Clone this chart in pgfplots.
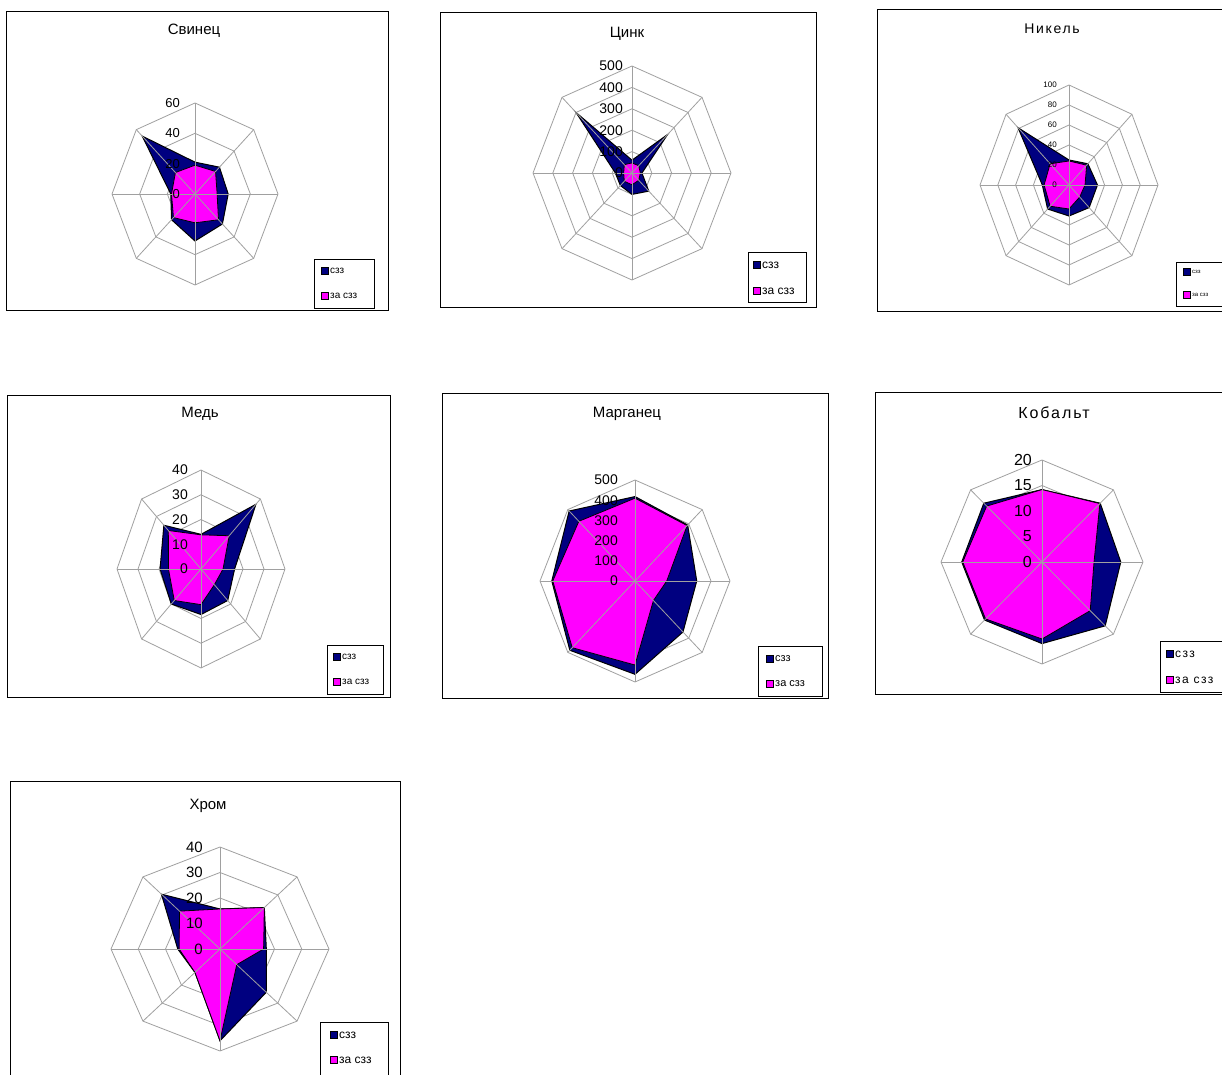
\documentclass[border=0pt]{standalone}
\usepackage{fontspec}
\setmainfont{Liberation Sans}
\newfontfamily\spaced[LetterSpace=12]{Liberation Sans}
\usepackage{pgfplots}
\pgfplotsset{compat=1.18}
\usepgfplotslibrary{polar}
\definecolor{navyc}{RGB}{0,0,128}
\definecolor{magc}{RGB}{255,0,255}
\definecolor{gridgray}{RGB}{160,160,160}
\pgfplotsset{
  radar/.style={anchor=center, scale only axis, hide axis, clip=false},
  gridl/.style={draw=gridgray, line width=0.8pt, data cs=polar},
  sz/.style={fill=navyc, draw=black, line width=1pt, data cs=polar},
  zsz/.style={fill=magc, draw=black, line width=0.8pt, data cs=polar},
}
\newcommand{\rings}[1]{\pgfplotsinvokeforeach{#1}{\addplot[gridl] coordinates {(90,##1) (45,##1) (0,##1) (-45,##1) (-90,##1) (-135,##1) (180,##1) (135,##1) (90,##1)};}}
\newcommand{\spokes}[1]{\pgfplotsinvokeforeach{90,45,0,-45,-90,-135,180,135}{\addplot[gridl] coordinates {(##1,0) (##1,#1)};}}
\newcommand{\rlabels}[3]{\pgfplotsinvokeforeach{#1}{\node[anchor=east, inner sep=0pt, font=\fontsize{#2}{#2}\selectfont, xshift=-#3pt] at (axis cs:0,##1) {##1};}}
\newcommand{\legendbox}[9]{% x1,y1,x2,y2, markerx, y_a, y_b, fontsize, family
  \draw[black, line width=0.8pt] (#1pt,#2pt) rectangle (#3pt,#4pt);
  \fill[navyc, draw=black, line width=0.4pt] ({#5pt-3.5pt},{#6pt-3.5pt}) rectangle ({#5pt+3.5pt},{#6pt+3.5pt});
  \fill[magc, draw=black, line width=0.4pt] ({#5pt-3.5pt},{#7pt-3.5pt}) rectangle ({#5pt+3.5pt},{#7pt+3.5pt});
  \node[anchor=west, inner sep=0pt, font=\fontsize{#8}{#8}\selectfont#9] at ({#5pt+5pt},#6pt) {сзз};
  \node[anchor=west, inner sep=0pt, font=\fontsize{#8}{#8}\selectfont#9] at ({#5pt+5pt},#7pt) {за сзз};
}
\begin{document}
\begin{tikzpicture}
\path[use as bounding box] (0pt,0pt) rectangle (1222pt,1074pt);
\fill[white] (0pt,0pt) rectangle (1222pt,1074pt);
% panel frames
\draw[black, line width=1pt] (6pt,1062pt) rectangle (388pt,763pt);
\draw[black, line width=1pt] (440pt,1061pt) rectangle (816pt,766pt);
\draw[black, line width=1pt] (877pt,1064pt) rectangle (1230pt,762pt);
\draw[black, line width=1pt] (7pt,678pt) rectangle (390pt,377pt);
\draw[black, line width=1pt] (442pt,680pt) rectangle (828pt,376pt);
\draw[black, line width=1pt] (875pt,681pt) rectangle (1230pt,380pt);
\draw[black, line width=1pt] (10pt,293pt) rectangle (400pt,-5pt);

% 1 Свинец
\begin{axis}[radar, at={(195pt,880pt)}, width=166pt, height=182pt, xmin=-60, xmax=60, ymin=-60, ymax=60]
\rings{20,40,60}
\addplot[sz] coordinates {(90,21) (45,25) (0,24) (-45,28) (-90,31) (-135,24) (180,17.5) (135,54) (90,21)};
\addplot[zsz] coordinates {(90,19) (45,21) (0,16) (-45,24) (-90,19) (-135,22) (180,17) (135,20) (90,19)};
\spokes{60}
\rlabels{0,20,40,60}{13}{15}
\end{axis}

% 2 Цинк
\begin{axis}[radar, at={(632pt,901pt)}, width=198pt, height=214pt, xmin=-500, xmax=500, ymin=-500, ymax=500]
\rings{100,200,300,400,500}
\addplot[sz] coordinates {(90,60) (45,255) (0,50) (-45,120) (-90,100) (-135,83) (180,84) (135,400) (90,60)};
\addplot[zsz] coordinates {(90,47) (45,48) (0,42) (-45,48) (-90,55) (-135,55) (180,42) (135,55) (90,47)};
\spokes{500}
\rlabels{0,100,200,300,400,500}{14}{9}
\end{axis}

% 3 Никель
\begin{axis}[radar, at={(1069pt,889pt)}, width=178pt, height=200pt, xmin=-100, xmax=100, ymin=-100, ymax=100]
\rings{20,40,60,80,100}
\addplot[sz] coordinates {(90,25) (45,30) (0,32) (-45,32) (-90,31) (-135,34) (180,30) (135,81) (90,25)};
\addplot[zsz] coordinates {(90,24) (45,28) (0,18) (-45,17) (-90,24) (-135,30) (180,28) (135,30) (90,24)};
\spokes{100}
\rlabels{0,20,40,60,80,100}{8}{12}
\end{axis}

% 4 Медь
\begin{axis}[radar, at={(201pt,505pt)}, width=168pt, height=198pt, xmin=-40, xmax=40, ymin=-40, ymax=40]
\rings{10,20,30,40}
\addplot[sz] coordinates {(90,14) (45,37) (0,16) (-45,18) (-90,18.4) (-135,20) (180,19.5) (135,25) (90,14)};
\addplot[zsz] coordinates {(90,13.8) (45,19) (0,10.5) (-45,9) (-90,14.4) (-135,18) (180,15.5) (135,22) (90,13.8)};
\spokes{40}
\rlabels{0,10,20,30,40}{14}{13}
\end{axis}

% 5 Марганец
\begin{axis}[radar, at={(635pt,493pt)}, width=190pt, height=202pt, xmin=-500, xmax=500, ymin=-500, ymax=500]
\rings{100,200,300,400,500}
\addplot[sz] coordinates {(90,418) (45,392) (0,325) (-45,357) (-90,462) (-135,485) (180,438) (135,490) (90,418)};
\addplot[zsz] coordinates {(90,410) (45,388) (0,167) (-45,137) (-90,416) (-135,467) (180,433) (135,418) (90,410)};
\spokes{500}
\rlabels{0,100,200,300,400,500}{14}{17}
\end{axis}

% 6 Кобальт
\begin{axis}[radar, at={(1042pt,512pt)}, width=202pt, height=204pt, xmin=-20, xmax=20, ymin=-20, ymax=20]
\rings{5,10,15,20}
\addplot[sz] coordinates {(90,14.2) (45,16.3) (0,15.6) (-45,17.7) (-90,16) (-135,16.1) (180,15.9) (135,16.3) (90,14.2)};
\addplot[zsz] coordinates {(90,14.2) (45,16.2) (0,10.3) (-45,13.5) (-90,15.1) (-135,15.8) (180,15.7) (135,15.5) (90,14.2)};
\spokes{20}
\rlabels{0,5,10,15,20}{16}{10}
\end{axis}

% 7 Хром
\begin{axis}[radar, at={(220pt,125pt)}, width=218pt, height=204pt, xmin=-40, xmax=40, ymin=-40, ymax=40]
\rings{10,20,30,40}
\addplot[sz] coordinates {(90,15.7) (45,23) (0,17) (-45,24) (-90,36) (-135,13) (180,15.5) (135,30.4) (90,15.7)};
\addplot[zsz] coordinates {(90,15.7) (45,23) (0,16) (-45,8.7) (-90,36) (-135,13) (180,15) (135,21) (90,15.7)};
\spokes{40}
\rlabels{0,10,20,30,40}{15}{17}
\end{axis}

% titles
\node[font=\fontsize{15}{18}\selectfont] at (194pt,1043pt) {Свинец};
\node[font=\fontsize{15}{18}\selectfont] at (627pt,1040pt) {Цинк};
\node[font=\fontsize{14}{17}\selectfont\spaced] at (1052pt,1045pt) {Никель};
\node[font=\fontsize{15}{18}\selectfont] at (200pt,660pt) {Медь};
\node[font=\fontsize{15}{18}\selectfont] at (627pt,660pt) {Марганец};
\node[font=\fontsize{16}{19}\selectfont\spaced] at (1054pt,661pt) {Кобальт};
\node[font=\fontsize{15}{18}\selectfont] at (208pt,268pt) {Хром};

% legends
\legendbox{314}{815}{374}{766}{325}{803}{778}{10}{}
\legendbox{748}{822}{806}{772}{757}{809}{783}{12}{}
\legendbox{1176}{812}{1230}{768}{1187}{802}{779}{6}{}
\legendbox{327}{429}{383}{380}{337}{417}{392}{10}{}
\legendbox{758}{428}{822}{378}{770}{415}{390}{11}{}
\legendbox{1160}{433}{1230}{382}{1170}{420}{394}{12}{\spaced}
\legendbox{320}{52}{388}{-5}{334}{39}{14}{12}{}
\end{tikzpicture}
\end{document}
